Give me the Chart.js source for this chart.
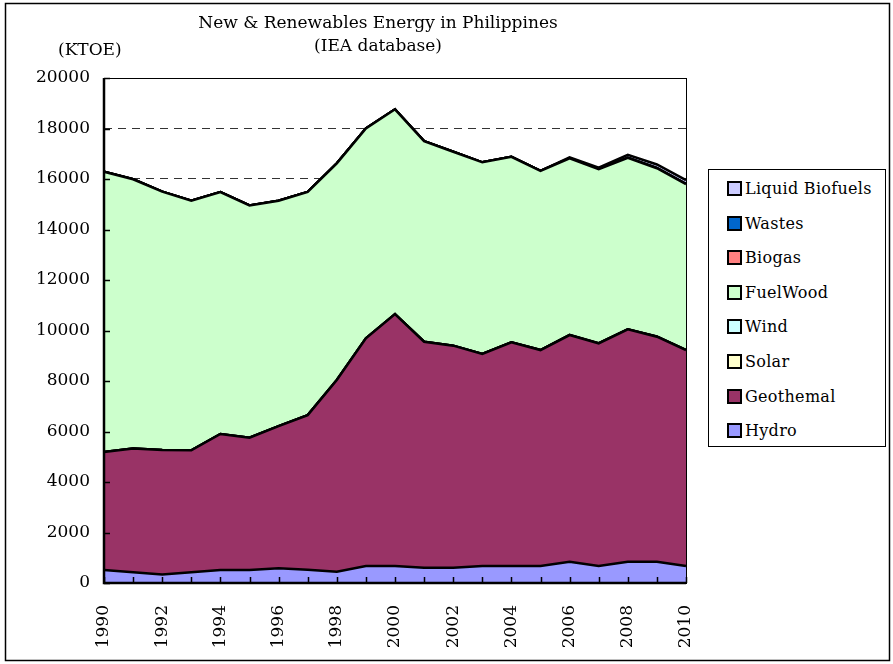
<!DOCTYPE html>
<html>
<head>
<meta charset="utf-8">
<script src="https://cdn.jsdelivr.net/npm/chart.js@4.4.1/dist/chart.umd.min.js"></script>
<style>
  html, body { margin: 0; padding: 0; background: #fff; }
  #wrap { position: relative; width: 893px; height: 664px; }
  #legend {
    position: absolute; left: 708px; top: 169px; width: 178px; height: 278px;
    border: 1px solid #000; background: #fff; box-sizing: border-box;
    font-family: "DejaVu Serif", serif; font-size: 16px; color: #000;
  }
  .item { position: absolute; left: 18px; height: 20px; line-height: 20px; white-space: nowrap; letter-spacing: 0.3px; }
  .sw { display: inline-block; width: 11px; height: 11px; border: 2px solid #000; vertical-align: -2px; margin-right: 3px; }
</style>
</head>
<body>
<div id="wrap">
  <canvas id="chart" width="893" height="664"></canvas>
  <div id="legend"></div>
</div>
<script>
const years = ["1990","1991","1992","1993","1994","1995","1996","1997","1998","1999","2000",
               "2001","2002","2003","2004","2005","2006","2007","2008","2009","2010"];

// KTOE
const hydro      = [515, 430, 340, 430, 515, 515, 580, 520, 450, 670, 670, 600, 600, 670, 670, 670, 845, 670, 845, 845, 670];
const geothermal = [4675, 4900, 4930, 4825, 5385, 5240, 5635, 6130, 7590, 9020, 9980, 8955, 8800, 8400, 8860, 8555, 8975, 8820, 9200, 8910, 8555];
const solar      = [0, 0, 0, 0, 0, 0, 0, 0, 0, 0, 1, 1, 1, 1, 1, 1, 1, 1, 1, 1, 1];
const wind       = [0, 0, 0, 0, 0, 0, 0, 0, 0, 0, 0, 0, 0, 0, 0, 2, 5, 5, 5, 5, 5];
const fuelWood   = [11100, 10660, 10230, 9885, 9585, 9200, 8925, 8835, 8580, 8310, 8110, 7945, 7680, 7590, 7350, 7090, 6990, 6890, 6785, 6665, 6565];
const biogas     = [0, 0, 0, 0, 0, 0, 0, 0, 0, 0, 0, 0, 0, 0, 0, 0, 5, 5, 5, 5, 5];
const wastes     = [0, 0, 0, 0, 0, 0, 0, 0, 0, 0, 0, 0, 0, 0, 0, 0, 5, 5, 5, 5, 5];
const biofuels   = [0, 0, 0, 0, 0, 0, 0, 0, 0, 0, 0, 0, 0, 0, 0, 0, 30, 50, 110, 140, 150];

const yTicks = [0, 2000, 4000, 6000, 8000, 10000, 12000, 14000, 16000, 18000, 20000];

const FONT = '"DejaVu Serif", serif';

function area(label, data, color, first) {
  return {
    label: label, data: data,
    backgroundColor: color, borderColor: "#000", borderWidth: 2.5,
    pointRadius: 0, tension: 0, fill: first ? "origin" : "-1"
  };
}

// frame, titles and inward tick marks
const decor = {
  id: "decor",
  beforeDraw(chart) {
    const ctx = chart.ctx;
    ctx.save();
    ctx.fillStyle = "#fff";
    ctx.fillRect(0, 0, chart.width, chart.height);
    ctx.strokeStyle = "#000";
    ctx.lineWidth = 1.5;
    ctx.strokeRect(5.5, 3.5, 884, 657);
    ctx.fillStyle = "#000";
    ctx.font = "17px " + FONT;
    ctx.textAlign = "center";
    ctx.textBaseline = "middle";
    ctx.fillText("New & Renewables Energy in Philippines", 378, 24);
    ctx.fillText("(IEA database)", 378, 47);
    ctx.textAlign = "left";
    ctx.fillText("(KTOE)", 58, 51);
    ctx.restore();
  },
  afterDatasetsDraw(chart) {
    const ctx = chart.ctx, a = chart.chartArea;
    const x = chart.scales.x, y = chart.scales.y;
    ctx.save();
    ctx.strokeStyle = "#000";
    ctx.lineWidth = 1;
    ctx.strokeRect(a.left + 0.5, a.top + 0.5, a.right - a.left, a.bottom - a.top);
    ctx.lineWidth = 1.5;
    ctx.beginPath();
    years.forEach((yr, i) => {
      const px = Math.round(x.getPixelForValue(i)) + 0.5;
      ctx.moveTo(px, a.bottom);
      ctx.lineTo(px, a.bottom - 6);
    });
    yTicks.forEach(v => {
      const py = Math.round(y.getPixelForValue(v)) + 0.5;
      ctx.moveTo(a.left, py);
      ctx.lineTo(a.left + 6, py);
    });
    ctx.stroke();
    ctx.lineWidth = 2.5;
    ctx.beginPath();
    ctx.moveTo(a.left, a.top);
    ctx.lineTo(a.left, a.bottom);
    ctx.lineTo(a.right, a.bottom);
    ctx.stroke();
    ctx.restore();
  }
};

const chart = new Chart(document.getElementById("chart"), {
  type: "line",
  data: {
    labels: years,
    datasets: [
      area("Hydro", hydro, "#9999FF", true),
      area("Geothemal", geothermal, "#993366"),
      area("Solar", solar, "#FFFFCC"),
      area("Wind", wind, "#CCFFFF"),
      area("FuelWood", fuelWood, "#CCFFCC"),
      area("Biogas", biogas, "#FF8080"),
      area("Wastes", wastes, "#0066CC"),
      area("Liquid Biofuels", biofuels, "#CCCCFF")
    ]
  },
  options: {
    responsive: false,
    animation: false,
    layout: { padding: { left: 0, top: 78, right: 207, bottom: 0 } },
    plugins: { legend: { display: false }, tooltip: { enabled: false } },
    scales: {
      x: {
        offset: false,
        grid: { display: false },
        border: { display: false },
        ticks: {
          autoSkip: false, minRotation: 90, maxRotation: 90, padding: 14,
          color: "#000", font: { family: FONT, size: 17 },
          callback: (v, i) => (i % 2 === 0 ? years[i] : "")
        },
        afterFit: s => { s.height = 81; }
      },
      y: {
        stacked: true, min: 0, max: 20000,
        grid: { color: "#333", lineWidth: 1, drawTicks: false },
        border: { display: false, dash: [8, 6] },
        ticks: {
          stepSize: 2000, padding: 14, color: "#000", font: { family: FONT, size: 17 },
          callback: v => String(v)
        },
        afterFit: s => { s.width = 104; }
      }
    }
  },
  plugins: [decor]
});

// legend box, top item = last series
const legend = document.getElementById("legend");
chart.data.datasets.slice().reverse().forEach((ds, i) => {
  const row = document.createElement("div");
  row.className = "item";
  row.style.top = (9 + i * 34.6) + "px";
  row.innerHTML = '<span class="sw" style="background:' + ds.backgroundColor + '"></span>' + ds.label;
  legend.appendChild(row);
});
</script>
</body>
</html>
